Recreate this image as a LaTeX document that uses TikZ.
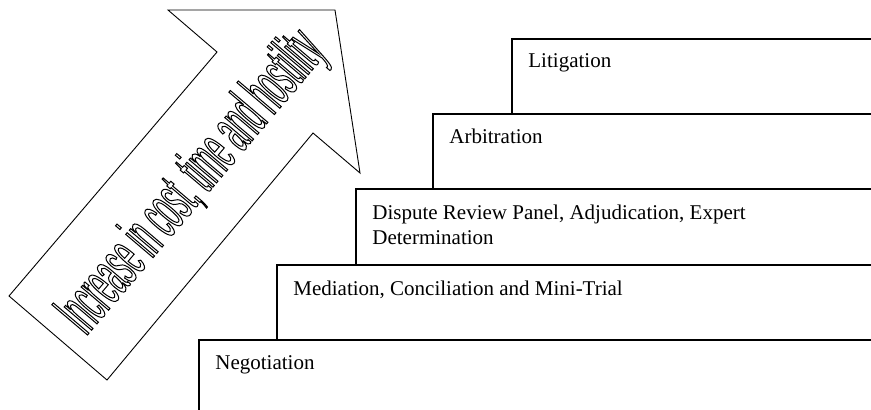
\documentclass[tikz,border=0pt]{standalone}
\usepackage{fontspec}
\setmainfont{Liberation Serif}
\newfontfamily\arrowfont[FakeStretch=0.365]{Liberation Sans}
% glyphs stroked, not filled
\newcommand\hollow[1]{\special{pdf:literal direct 1 Tr 0.5 w}#1\special{pdf:literal direct 0 Tr}}

\tikzset{
  stair/.style={draw=black, line width=0.6pt, fill=white},
  stairlabel/.style={anchor=base west, inner sep=0pt, align=left,
    font=\fontsize{10.5}{12.5}\selectfont},
}

\begin{document}
\begin{tikzpicture}[x=0.5pt,y=0.5pt]
\useasboundingbox (0,0) rectangle (871,-409);
\clip (0,0) rectangle (871,-409);

% big arrow
\draw[line width=0.45pt] (9,-296) -- (217,-52) -- (168,-10) -- (335,-10)
  -- (360,-173) -- (313,-133) -- (107,-380) -- cycle;
\node[rotate=49.7, anchor=base, inner sep=0pt] (trend) at (206.5,-194.7)
  {\arrowfont\fontsize{34}{40}\selectfont\hollow{Increase in cost, time and hostility}};

% steps, back to front
\draw[stair] (512,-39) rectangle (890,-430);
\node[stairlabel] (litigation) at (528,-67.5) {Litigation};

\draw[stair] (433,-114) rectangle (890,-430);
\node[stairlabel] (arbitration) at (449,-143.5) {Arbitration};

\draw[stair] (356,-189) rectangle (890,-430);
% base of a two-line node is its last line
\node[stairlabel] (dispute) at (372,-244.3) {Dispute Review Panel, Adjudication, Expert\\Determination};

\draw[stair] (277,-265) rectangle (890,-430);
\node[stairlabel] (mediation) at (293,-295) {Mediation, Conciliation and Mini-Trial};

\draw[stair] (199,-340) rectangle (890,-430);
\node[stairlabel] (negotiation) at (215,-369.5) {Negotiation};
\end{tikzpicture}
\end{document}
